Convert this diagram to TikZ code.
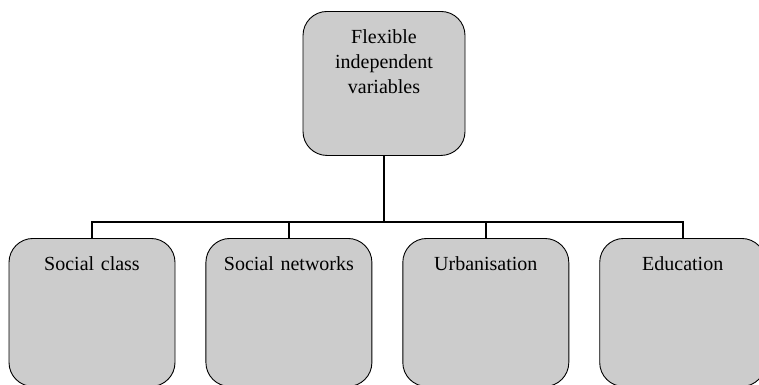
\documentclass[tikz,border=0pt]{standalone}
\usepackage{fontspec}
\setmainfont{Liberation Serif}
\usetikzlibrary{positioning}
\definecolor{boxgray}{HTML}{CCCCCC}

\begin{document}
\begin{tikzpicture}[font=\fontsize{20}{25}\selectfont, node distance=30pt,
    box/.style={draw, line width=0.9pt, rounded corners=24pt, fill=boxgray, inner xsep=4pt, inner ysep=0pt, align=center, text height=32pt},
    topbox/.style={box, text width=154pt, text depth=112pt},
    varbox/.style={box, text width=158pt, text depth=116pt},
    link/.style={line width=2pt}]
    \useasboundingbox (0,0) rectangle (759pt,-384pt);
    \node[topbox, anchor=north] (flex) at (384pt,-11pt) {Flexible\\independent\\variables};
    \node[varbox, anchor=north] (class) at (92pt,-238pt) {Social class};
    \node[varbox, right=of class] (networks) {Social networks};
    \node[varbox, right=of networks] (urban) {Urbanisation};
    \node[varbox, right=of urban] (edu) {Education};
    \coordinate (bar) at (0,-222pt);
    \draw[link] (flex.south) -- (flex.south |- bar);
    \draw[link] (class.north) -- (class.north |- bar) -- (edu.north |- bar) -- (edu.north);
    \draw[link] (networks.north) -- (networks.north |- bar);
    \draw[link] (urban.north) -- (urban.north |- bar);
\end{tikzpicture}
\end{document}
